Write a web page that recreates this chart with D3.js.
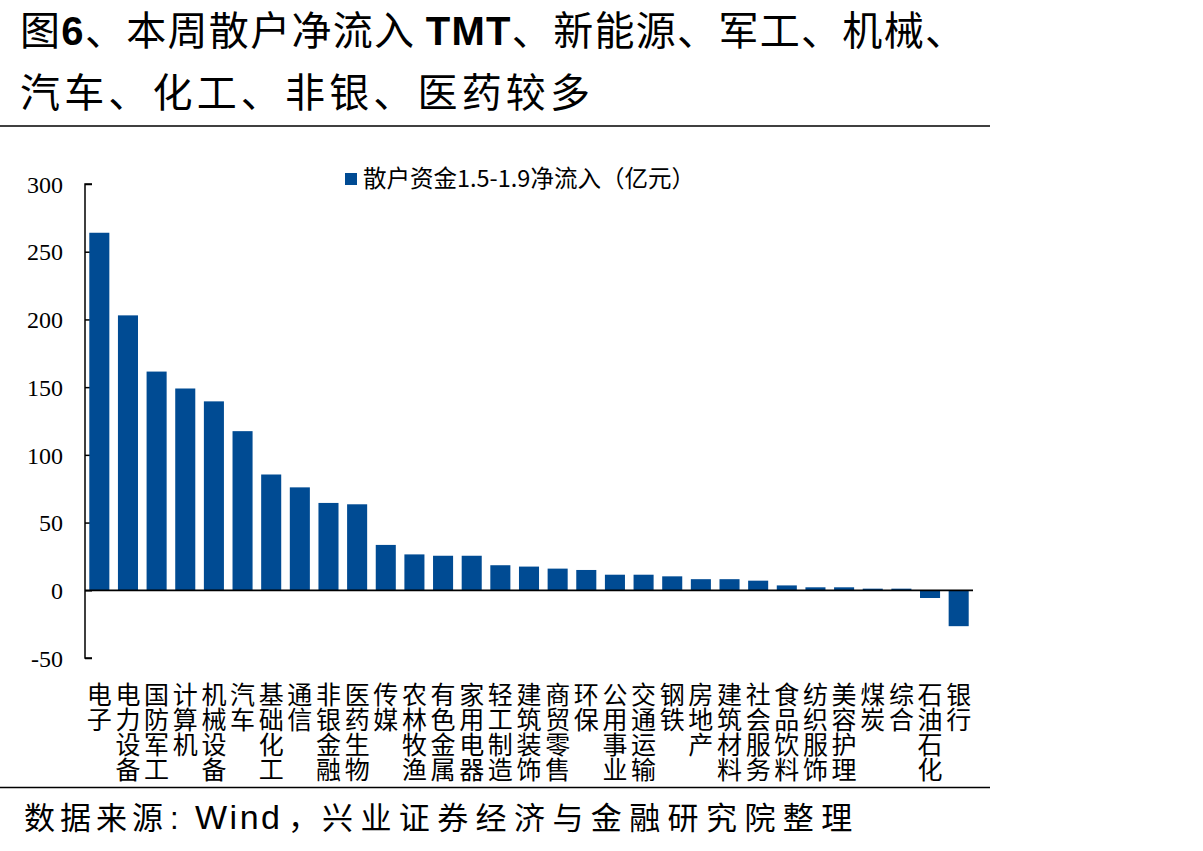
<!DOCTYPE html>
<html>
<head>
<meta charset="utf-8">
<script src="https://cdn.jsdelivr.net/npm/d3@7"></script>
<style>
  body { margin: 0; background: #fff; }
  svg { display: block; }
</style>
</head>
<body>
<svg id="chart" width="1203" height="851"></svg>
<script>
// industries, sorted by weekly net retail inflow
var categories = ["电子", "电力设备", "国防军工", "计算机", "机械设备", "汽车", "基础化工", "通信",
  "非银金融", "医药生物", "传媒", "农林牧渔", "有色金属", "家用电器", "轻工制造", "建筑装饰",
  "商贸零售", "环保", "公用事业", "交通运输", "钢铁", "房地产", "建筑材料", "社会服务",
  "食品饮料", "纺织服饰", "美容护理", "煤炭", "综合", "石油石化", "银行"];
var inflow = [264, 203, 161.5, 149, 139.5, 117.5, 85.5, 76, 64.5, 63.5, 33.5, 26.5, 25.5, 25.5,
  18.5, 17.5, 16, 15, 11.5, 11.5, 10.3, 8.2, 8.2, 7.1, 3.6, 2.2, 2.2, 1.2, 1.2, -5.7, -26.5];
var yTicks = [300, 250, 200, 150, 100, 50, 0, -50];
var legendLabel = "散户资金1.5-1.9净流入（亿元）";
var titleLine1 = ["图", "6", "、本周散户净流入 ", "TMT", "、新能源、军工、机械、"];
var titleLine2 = "汽车、化工、非银、医药较多";
var sourceParts = ["数据来源", ":", "Wind", "，", "兴业证券经济与金融研究院整理"];

var svg = d3.select("#chart");
var cjk = "'Noto Sans CJK SC', 'Noto Sans', sans-serif";
var latin = "'Liberation Sans', Arial, sans-serif";
var barColor = "#004B93";

// title
var t1 = svg.append("text").attr("x", 20).attr("y", 45)
  .attr("font-size", 40).attr("textLength", 945).attr("lengthAdjust", "spacing")
  .attr("font-family", cjk);
titleLine1.forEach(function (s, i) {
  var ts = t1.append("tspan").text(s);
  if (i == 1 || i == 3) {
    ts.attr("font-family", latin).attr("font-weight", "bold");
  }
});
svg.append("text").attr("x", 20).attr("y", 107)
  .attr("font-size", 40).attr("textLength", 570).attr("lengthAdjust", "spacing")
  .attr("font-family", cjk).text(titleLine2);

svg.append("line").attr("x1", 0).attr("x2", 990).attr("y1", 126).attr("y2", 126)
  .attr("stroke", "#000").attr("stroke-width", 1.6);
svg.append("line").attr("x1", 0).attr("x2", 990).attr("y1", 787.5).attr("y2", 787.5)
  .attr("stroke", "#000").attr("stroke-width", 1.6);

// scales
var x = d3.scaleBand().domain(categories).range([85, 973]).paddingInner(0.3).paddingOuter(0.15);
var y = d3.scaleLinear().domain([-50, 300]).range([658, 184]);

// y axis, ticks point inward
var yAxis = d3.axisRight(y).tickValues(yTicks).tickSize(7).tickFormat(function (d) { return String(d); });
var gy = svg.append("g").attr("transform", "translate(85,0)").call(yAxis);
gy.select(".domain").attr("stroke", "#000").attr("stroke-width", 1.5)
  .attr("d", "M7," + y(-50) + "H0V" + y(300) + "H7");
gy.selectAll(".tick line").attr("stroke", "#000").attr("stroke-width", 1.5);
gy.selectAll(".tick text").attr("x", -22).attr("text-anchor", "end")
  .attr("font-family", "'Liberation Serif', 'Times New Roman', serif")
  .attr("font-size", 24).attr("fill", "#000").attr("dy", "0.34em");

// bars
svg.selectAll("rect.bar").data(inflow).enter().append("rect")
  .attr("class", "bar")
  .attr("x", function (d, i) { return x(categories[i]); })
  .attr("y", function (d) { return y(Math.max(0, d)); })
  .attr("width", x.bandwidth())
  .attr("height", function (d) { return Math.abs(y(d) - y(0)); })
  .attr("fill", barColor);

// zero line
svg.append("line").attr("x1", 85).attr("x2", 973).attr("y1", y(0)).attr("y2", y(0))
  .attr("stroke", "#000").attr("stroke-width", 1.8);

// category labels, written top to bottom
svg.selectAll("text.cat").data(categories).enter().append("text")
  .attr("class", "cat")
  .attr("x", function (d) { return x(d) + x.bandwidth() / 2; })
  .attr("y", 681.5)
  .attr("writing-mode", "vertical-rl")
  .style("text-orientation", "upright")
  .attr("font-family", cjk).attr("font-size", 25)
  .text(function (d) { return d; });

// legend
svg.append("rect").attr("x", 345).attr("y", 173).attr("width", 12).attr("height", 12).attr("fill", barColor);
svg.append("text").attr("x", 363).attr("y", 187).attr("font-size", 23.5)
  .attr("font-family", cjk).text(legendLabel);

// source
var src = svg.append("text").attr("y", 829).attr("font-size", 31).attr("font-family", cjk);
src.append("tspan").attr("x", 24).attr("letter-spacing", 5).text(sourceParts[0]);
src.append("tspan").attr("x", 170).attr("font-family", latin).text(sourceParts[1]);
src.append("tspan").attr("x", 195).attr("font-family", latin).attr("font-size", 34)
  .attr("letter-spacing", 2.5).text(sourceParts[2]);
src.append("tspan").attr("x", 288).text(sourceParts[3]);
src.append("tspan").attr("x", 322).attr("letter-spacing", 7.4).text(sourceParts[4]);
</script>
</body>
</html>
